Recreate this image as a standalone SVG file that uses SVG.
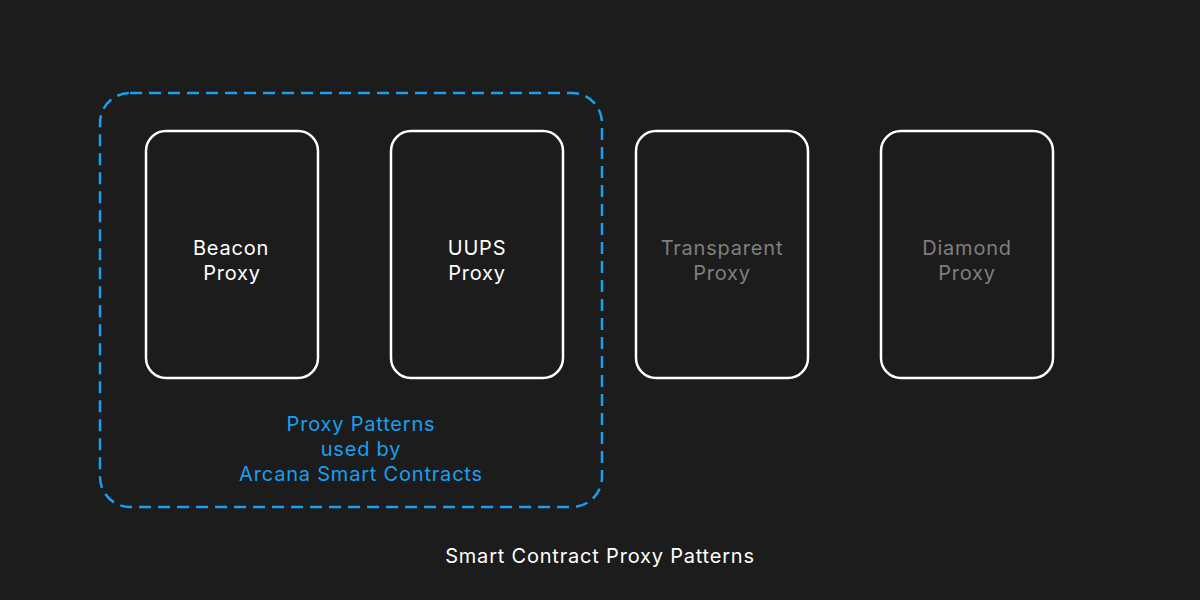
<svg xmlns="http://www.w3.org/2000/svg" width="1200" height="600" viewBox="0 0 1200 600">
<style>
.bg{fill:#1c1c1c}
.box{fill:none;stroke:#ffffff;stroke-width:2.5}
.grp{fill:none;stroke:#1a9ff0;stroke-width:2.5;stroke-dasharray:12 7}
text{font-family:Inter,"Noto Sans",sans-serif;font-size:20px;text-anchor:middle;letter-spacing:0.8px}
.w{fill:#ffffff}
.g{fill:#7f7f7f}
.b{fill:#1a9ff0}
</style>
<rect class="bg" x="0" y="0" width="1200" height="600"/>
<g id="group-arcana">
<rect class="grp" x="100" y="93" width="502" height="414" rx="30"/>
<text class="b" x="361" y="431">Proxy Patterns</text>
<text class="b" x="361" y="456">used by</text>
<text class="b" x="361" y="481">Arcana Smart Contracts</text>
</g>
<g id="beacon">
<rect class="box" x="146" y="131" width="172" height="247" rx="20"/>
<text class="w" x="231" y="255">Beacon</text>
<text class="w" x="232" y="280">Proxy</text>
</g>
<g id="uups">
<rect class="box" x="391" y="131" width="172" height="247" rx="20"/>
<text class="w" x="477" y="255">UUPS</text>
<text class="w" x="477" y="280">Proxy</text>
</g>
<g id="transparent">
<rect class="box" x="636" y="131" width="172" height="247" rx="20"/>
<text class="g" x="722" y="255">Transparent</text>
<text class="g" x="722" y="280">Proxy</text>
</g>
<g id="diamond">
<rect class="box" x="881" y="131" width="172" height="247" rx="20"/>
<text class="g" x="967" y="255">Diamond</text>
<text class="g" x="967" y="280">Proxy</text>
</g>
<g id="connectors"></g>
<text class="w" x="600" y="563">Smart Contract Proxy Patterns</text>
</svg>
